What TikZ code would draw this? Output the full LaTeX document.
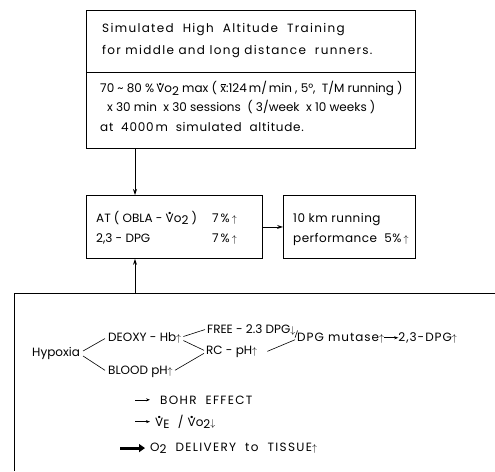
\documentclass[tikz,border=0pt]{standalone}
\usepackage{fontspec}
\setmainfont{Poppins}
\usetikzlibrary{arrows.meta}
\newcommand\myup{{\fontsize{10}{10}\selectfont$\uparrow$}}
\newcommand\mydn{{\fontsize{10}{10}\selectfont$\downarrow$}}
\newcommand\Vd{\leavevmode\hbox{\ooalign{V\cr\hidewidth\smash{\raisebox{0.6em}{\bfseries.}}\hidewidth\cr}}}
\newcommand\mysub[1]{\raisebox{-0.4ex}{#1}}
\newcommand\xbar{\leavevmode\hbox{\ooalign{x\cr\hidewidth\smash{\rule[0.68em]{0.42em}{0.06em}}\hidewidth\cr}}}
\begin{document}
\begin{tikzpicture}[x=1pt,y=-1pt,
  box/.style={draw, line width=0.9pt, inner sep=0pt, anchor=north west},
  txt/.style={anchor=base west, inner sep=0pt, font=\fontsize{12}{14}\selectfont},
  wide/.style={font=\fontsize{12}{14}\selectfont\addfontfeatures{LetterSpace=6}},
  wider/.style={font=\fontsize{12}{14}\selectfont\addfontfeatures{LetterSpace=8}},
  widest/.style={font=\fontsize{12}{14}\selectfont\addfontfeatures{LetterSpace=11}},
  kmw/.style={font=\fontsize{12}{14}\selectfont\addfontfeatures{LetterSpace=4}},
  sm/.style={anchor=base west, inner sep=0pt, font=\fontsize{12}{14}\selectfont},
  smw/.style={font=\fontsize{12}{14}\selectfont\addfontfeatures{LetterSpace=11}},
  arr/.style={-{Stealth[length=6pt,width=4pt]}, line width=0.8pt},
  sarr/.style={-{Stealth[length=4pt,width=3pt]}, line width=0.6pt},
  ln/.style={line width=0.6pt}]
\useasboundingbox (0,0) rectangle (495,471);
% boxes
\node[box, minimum width=329pt, minimum height=138pt] (top) at (86,10) {};
\coordinate (dl) at (86,72);
\draw[line width=0.9pt] (dl) -- (top.east |- dl);
\node[box, minimum width=176pt, minimum height=63pt] (at) at (86,195) {};
\node[box, minimum width=132pt, minimum height=63pt] (km) at (283,195) {};
\coordinate (bl) at (14,293);
\coordinate (br) at (495,293);
\coordinate (bb) at (14,471);
\draw[line width=0.9pt] (br) -- (bl) -- (bb);
% connectors
\draw[arr] ([xshift=49pt]top.south west) -- ([xshift=49pt]at.north west);
\draw[arr] (at.east) -- (km.west);
\coordinate (bt) at (135,293);
\draw[arr] (bt) -- (at.south -| bt);
% top texts
\node[txt, widest] (t1) at (102,32.5) {Simulated\ \ High\ \ Altitude\ \ Training};
\node[txt, widest] (t2) at (102,54.5) {for\ middle\ and\ long\ distance\ \ runners.};
\node[txt] (t3) at (100,92.5) {70 \textasciitilde\ 80 \%\,\Vd o\mysub{2} max ( \xbar:124\,m/\,min ,\ 5°,\ \ T/M running )};
\node[txt] (t4) at (107,111.5) {x 30 min\ \ x 30 sessions\ \ ( 3/week\ \ x 10 weeks )};
\node[txt, wide] (t5) at (100,131.5) {at\ \ 4000\,m\ \ simulated\ \ altitude.};
% AT box
\node[txt] (a1) at (96,222) {AT ( OBLA - \Vd o\mysub{2} )};
\node[txt] (a1p) at (212,222) {7\,\%\,\myup};
\node[txt] (a2) at (96,242) {2,3 - DPG};
\node[txt] (a2p) at (212,242) {7\,\%\,\myup};
% 10km box
\node[txt, kmw] (k1) at (293,222) {10 km running};
\node[txt, kmw] (k2) at (293,242) {performance\ \ 5\%\,\myup};
% bottom texts
\node[sm] (hyp) at (32,356) {Hypoxia};
\node[sm] (deoxy) at (108,341) {DEOXY - Hb\myup};
\node[sm] (blood) at (108,374) {BLOOD pH\myup};
\node[sm] (free) at (207,333) {FREE - 2.3 DPG\mydn};
\node[sm] (rc) at (206,354) {RC - pH\myup};
\node[sm, wider] (mut) at (297,341) {DPG mutase\myup};
\node[sm, wider, anchor=west] (dpg) at ([xshift=14pt]mut.east) {2,3-DPG\myup};
\draw[sarr] (mut.east) -- (dpg.west);
\draw[ln] ([shift={(3pt,2pt)}]hyp.east) -- ([shift={(-3pt,-1pt)}]deoxy.west);
\draw[ln] ([shift={(3pt,-3pt)}]hyp.east) -- ([shift={(-3pt,1pt)}]blood.west);
\draw[ln] ([shift={(2pt,1pt)}]deoxy.east) -- ([shift={(-2pt,0pt)}]free.west);
\draw[ln] ([shift={(2pt,-3pt)}]deoxy.east) -- ([shift={(-2pt,1pt)}]rc.west);
\draw[ln] ([shift={(2pt,1pt)}]blood.east) -- ([shift={(-2pt,-2pt)}]rc.west);
\draw[ln] ([shift={(2pt,-1pt)}]free.east) -- ([shift={(-2pt,0pt)}]mut.west);
\draw[ln] ([xshift=10pt]rc.east) -- ([shift={(-2pt,-2pt)}]mut.west);
\node[sm, smw] (bohr) at (160,404) {BOHR\ \ EFFECT};
\draw[sarr] ([xshift=-25pt]bohr.west) -- ([xshift=-10pt]bohr.west);
\node[sm, wider] (ve) at (155,426) {\Vd\mysub{E}\ \ /\ \Vd o\mysub{2}\mydn};
\draw[sarr] ([xshift=-20pt]ve.west) -- ([xshift=-5pt]ve.west);
\node[sm, smw] (o2) at (150,451) {O\mysub{2}\ \ DELIVERY\ \ to\ \ TISSUE\myup};
\draw[-{Triangle[length=6pt,width=8pt]}, line width=3pt] ([xshift=-30pt]o2.west) -- ([xshift=-5pt]o2.west);
\end{tikzpicture}
\end{document}
